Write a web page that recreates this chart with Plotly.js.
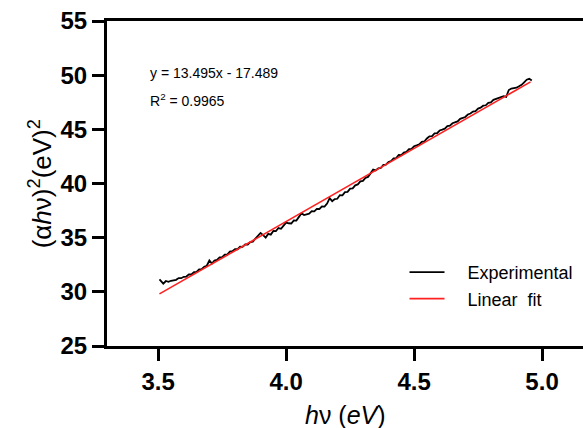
<!DOCTYPE html>
<html>
<head>
<meta charset="utf-8">
<script src="https://cdn.plot.ly/plotly-3.0.1.min.js"></script>
<style>html,body{margin:0;padding:0;background:#fff;}#chart{width:583px;height:428px;}</style>
</head>
<body>
<div id="chart"></div>
<script>
// Experimental (αhν)² data
var expX = [3.505, 3.51, 3.52, 3.53, 3.54, 3.55, 3.56, 3.57, 3.58, 3.59, 3.60, 3.61, 3.62, 3.63, 3.64, 3.65, 3.66, 3.67, 3.68, 3.69,
            3.70, 3.71, 3.72, 3.73, 3.74, 3.75, 3.76, 3.77, 3.78, 3.79, 3.80, 3.81, 3.82, 3.83, 3.84, 3.85, 3.86, 3.87, 3.88, 3.89,
            3.90, 3.91, 3.92, 3.93, 3.94, 3.95, 3.96, 3.97, 3.98, 3.99, 4.00, 4.01, 4.02, 4.03, 4.04, 4.05, 4.06, 4.07, 4.08, 4.09,
            4.10, 4.11, 4.12, 4.13, 4.14, 4.15, 4.16, 4.17, 4.18, 4.19, 4.20, 4.21, 4.22, 4.23, 4.24, 4.25, 4.26, 4.27, 4.28, 4.29,
            4.30, 4.31, 4.32, 4.33, 4.34, 4.35, 4.36, 4.37, 4.38, 4.39, 4.40, 4.41, 4.42, 4.43, 4.44, 4.45, 4.46, 4.47, 4.48, 4.49,
            4.50, 4.51, 4.52, 4.53, 4.54, 4.55, 4.56, 4.57, 4.58, 4.59, 4.60, 4.61, 4.62, 4.63, 4.64, 4.65, 4.66, 4.67, 4.68, 4.69,
            4.70, 4.71, 4.72, 4.73, 4.74, 4.75, 4.76, 4.77, 4.78, 4.79, 4.80, 4.81, 4.82, 4.83, 4.84, 4.85, 4.86, 4.87, 4.88, 4.89,
            4.90, 4.91, 4.92, 4.93, 4.94, 4.95, 4.96];
var expY = [31.15, 31.03, 30.76, 31.00, 30.93, 31.02, 31.10, 31.11, 31.27, 31.26, 31.39, 31.41, 31.61, 31.60, 31.83, 31.85, 32.08, 32.09, 32.32, 32.41,
            32.89, 32.60, 32.89, 32.95, 33.18, 33.20, 33.43, 33.44, 33.72, 33.76, 33.94, 33.93, 34.16, 34.15, 34.38, 34.37, 34.60, 34.64, 34.92, 35.16,
            35.44, 35.23, 35.01, 35.35, 35.28, 35.62, 35.60, 35.89, 35.82, 36.11, 36.39, 36.33, 36.31, 36.60, 36.58, 36.92, 37.25, 37.09, 37.17, 37.21,
            37.44, 37.43, 37.66, 37.65, 37.88, 37.87, 38.15, 38.64, 38.37, 38.56, 38.59, 38.93, 38.91, 39.20, 39.23, 39.52, 39.55, 39.83, 39.92, 40.20,
            40.24, 40.52, 40.61, 40.94, 41.28, 41.21, 41.40, 41.43, 41.72, 41.75, 41.99, 42.07, 42.31, 42.34, 42.63, 42.61, 42.85, 42.93, 43.17, 43.20,
            43.44, 43.52, 43.61, 43.84, 43.88, 44.16, 44.35, 44.38, 44.62, 44.65, 44.89, 44.97, 45.06, 45.29, 45.33, 45.56, 45.65, 45.73, 45.97, 46.05,
            46.14, 46.37, 46.46, 46.64, 46.68, 46.91, 47.00, 47.18, 47.22, 47.45, 47.49, 47.72, 47.81, 47.89, 47.98, 48.06, 48.00, 48.63, 48.77, 48.80,
            48.84, 48.97, 49.11, 49.34, 49.58, 49.66, 49.50];

// Linear fit parameters
var fitSlope = 13.495;
var fitIntercept = -17.489;
var fitR2 = 0.9965;
var fitXRange = [3.505, 4.955];
var fitY = fitXRange.map(function (x) { return fitSlope * x + fitIntercept; });

var xRange = [3.3, 5.16];
var yRange = [25, 55];
var xTicks = [3.5, 4.0, 4.5, 5.0];
var yTicks = [25, 30, 35, 40, 45, 50, 55];
var seriesNames = ['\u2003Experimental', '\u2003Linear  fit'];
var xTitle = '<i>h</i>ν (<i>eV</i>)';
var yTitle = '(α<i>h</i>ν)<sup>2</sup>(eV)<sup>2</sup>';

var font = 'Arial, "Liberation Sans", Helvetica, sans-serif';
var plotHeightPx = 428 - 21 - 82;
var tickLenPx = 12;
// vertical centre of the x tick marks, half a tick length below the axis
var xTickMarkY = yRange[0] - (tickLenPx / 2) * (yRange[1] - yRange[0]) / plotHeightPx;

var traces = [
  {x: expX, y: expY, type: 'scatter', mode: 'lines', name: seriesNames[0],
   line: {color: '#000000', width: 1.8}, legendgroup: 'a'},
  {x: fitXRange, y: fitY, type: 'scatter', mode: 'lines', name: seriesNames[1],
   line: {color: '#ff2020', width: 1.6}, legendgroup: 'b'},
  // x-axis tick marks hanging below the axis line
  {x: xTicks, y: xTicks.map(function () { return xTickMarkY; }), type: 'scatter', mode: 'markers',
   cliponaxis: false, showlegend: false, hoverinfo: 'skip',
   marker: {symbol: 'line-ns', size: tickLenPx, color: '#000', line: {color: '#000', width: 3}}}
];

var layout = {
  width: 583, height: 428,
  margin: {l: 107, r: 0, t: 21, b: 82},
  paper_bgcolor: '#ffffff', plot_bgcolor: '#ffffff',
  font: {family: font, color: '#000'},
  showlegend: true,
  legend: {x: 0.625, y: 0.283, xanchor: 'left', yanchor: 'top', bgcolor: 'rgba(0,0,0,0)',
           font: {family: font, size: 18, color: '#000'}, tracegroupgap: 0, itemwidth: 35},
  xaxis: {
    range: xRange, tickvals: xTicks, ticktext: xTicks.map(function (v) { return v.toFixed(1); }),
    showgrid: false, zeroline: false, showline: true, linewidth: 3, linecolor: '#000', mirror: true,
    ticks: 'outside', ticklen: tickLenPx, tickwidth: 3, tickcolor: '#000',
    tickfont: {family: font, size: 24, weight: 'bold', color: '#000'}
  },
  yaxis: {
    range: yRange, tickvals: yTicks,
    showgrid: false, zeroline: false, showline: true, linewidth: 3, linecolor: '#000',
    ticks: 'outside', ticklen: tickLenPx, tickwidth: 3, tickcolor: '#000',
    tickfont: {family: font, size: 24, weight: 'bold', color: '#000'}
  },
  annotations: [
    {xref: 'paper', yref: 'paper', x: 0.086, y: 0.84, xanchor: 'left', yanchor: 'middle', showarrow: false,
     text: 'y = ' + fitSlope.toFixed(3) + 'x - ' + Math.abs(fitIntercept).toFixed(3), font: {family: font, size: 14, color: '#000'}},
    {xref: 'paper', yref: 'paper', x: 0.086, y: 0.757, xanchor: 'left', yanchor: 'middle', showarrow: false,
     text: 'R<sup>2</sup> = ' + fitR2.toFixed(4), font: {family: font, size: 14, color: '#000'}},
    {xref: 'paper', yref: 'paper', x: 0.5, y: -0.212, xanchor: 'center', yanchor: 'middle', showarrow: false,
     text: xTitle, font: {family: font, size: 25, color: '#000'}},
    {xref: 'paper', yref: 'paper', x: -0.139, y: 0.5, xanchor: 'center', yanchor: 'middle', showarrow: false,
     textangle: -90, text: yTitle, font: {family: font, size: 26, color: '#000'}}
  ]
};

Plotly.newPlot('chart', traces, layout, {displayModeBar: false, staticPlot: true});
</script>
</body>
</html>
